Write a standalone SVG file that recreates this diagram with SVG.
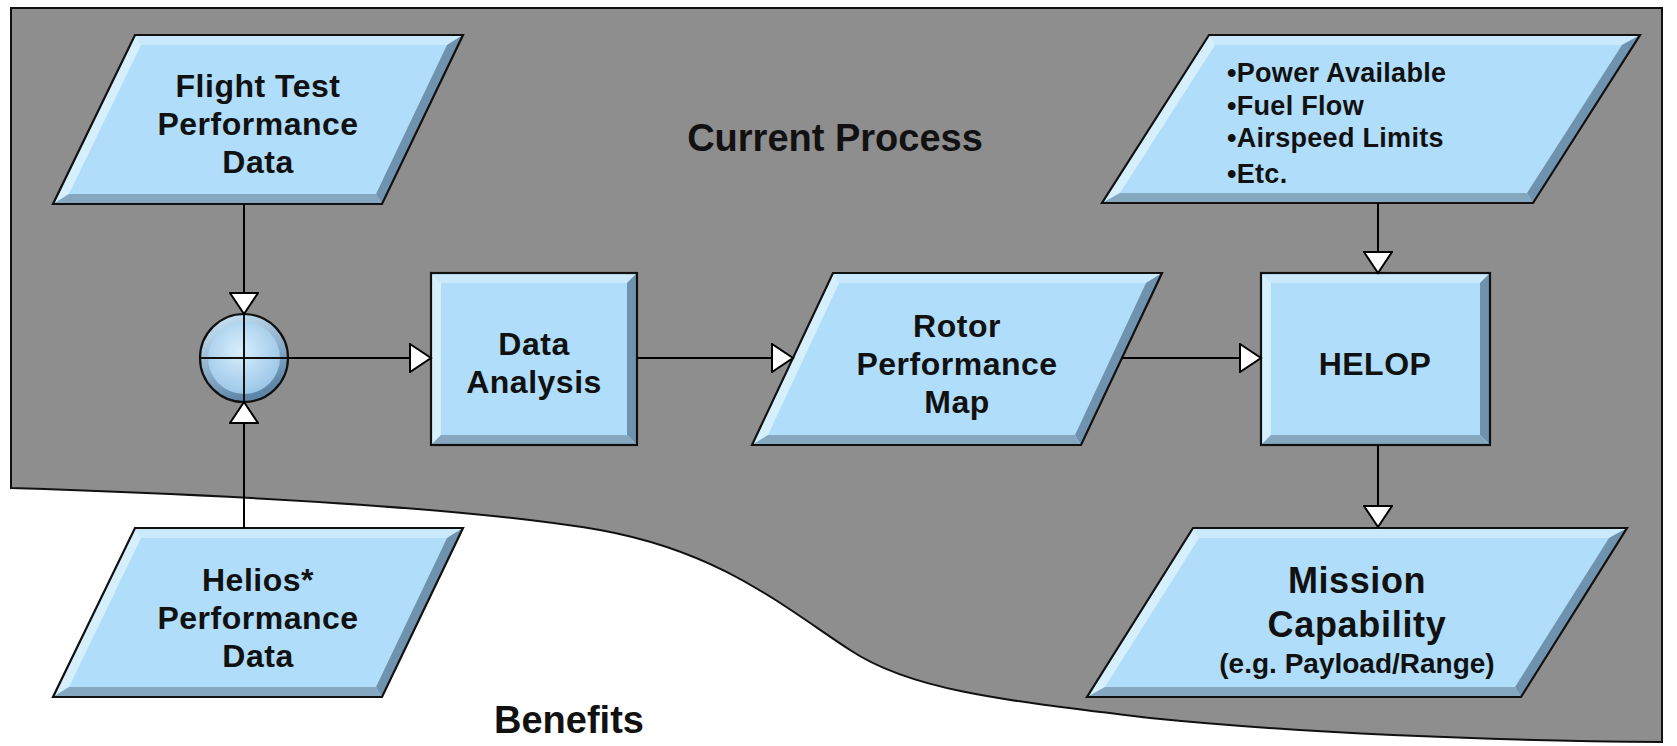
<svg xmlns="http://www.w3.org/2000/svg" width="1677" height="746" viewBox="0 0 1677 746">
  <style>
    .lbl { font-family: "Liberation Sans", Arial, Helvetica, sans-serif; font-weight: bold; fill: #111; text-anchor: middle; }
    .main { font-size: 32px; letter-spacing: 0.5px; }
    .title { font-size: 38px; }
    .list { font-size: 27px; text-anchor: start; letter-spacing: 0.3px; }
    .face { fill: #b0ddf9; }
    .bev-t { fill: #cbe9fc; }
    .bev-l { fill: #d6effd; }
    .bev-r { fill: #6f92ae; }
    .bev-b { fill: #86a7c0; }
    .outline { fill: none; stroke: #111; stroke-width: 2.2; stroke-linejoin: miter; }
    .conn { fill: none; stroke: #000; stroke-width: 2; marker-end: url(#tri); }
  </style>
  <defs>
    <marker id="tri" viewBox="0 0 24 30" refX="22" refY="15" markerWidth="24" markerHeight="30" markerUnits="userSpaceOnUse" orient="auto">
      <path d="M1,1 L22,15 L1,29 Z" fill="#fff" stroke="#000" stroke-width="2"/>
    </marker>
    <linearGradient id="ringGrad" x1="0" y1="0" x2="0.4" y2="1">
      <stop offset="0" stop-color="#d4ecfc"/>
      <stop offset="1" stop-color="#5e86a8"/>
    </linearGradient>
    <radialGradient id="capGrad" cx="0.45" cy="0.4" r="0.65">
      <stop offset="0" stop-color="#d8effd"/>
      <stop offset="1" stop-color="#98c4e6"/>
    </radialGradient>
  </defs>

  <rect width="1677" height="746" fill="#fff"/>

  <!-- shaded "current process" field with curved lower boundary -->
  <path id="current-process-area" d="M11,8 H1662 V742 C1550,741 1350,738 1150,718 C1000,700 910,690 850,650 C780,604 720,552 600,530 C450,505 200,494 11,488 Z" fill="#8e8e8e" stroke="#111" stroke-width="2"/>

  <text class="lbl title" x="835" y="151">Current Process</text>
  <text class="lbl title" x="569" y="733">Benefits</text>

  <g id="flight-test-data">
    <polygon class="face" points="135,35 463,35 382,204 53,204"/>
    <polygon class="bev-t" points="135,35 463,35 447,45 141,45"/>
    <polygon class="bev-l" points="135,35 141,45 69,194 53,204"/>
    <polygon class="bev-r" points="463,35 382,204 376,194 447,45"/>
    <polygon class="bev-b" points="53,204 69,194 376,194 382,204"/>
    <polygon class="outline" points="135,35 463,35 382,204 53,204"/>
    <text class="lbl main" x="258" y="97">Flight Test</text>
    <text class="lbl main" x="258" y="135">Performance</text>
    <text class="lbl main" x="258" y="173">Data</text>
  </g>

  <g id="helios-data">
    <polygon class="face" points="135,528 463,528 382,697 53,697"/>
    <polygon class="bev-t" points="135,528 463,528 447,538 141,538"/>
    <polygon class="bev-l" points="135,528 141,538 69,687 53,697"/>
    <polygon class="bev-r" points="463,528 382,697 376,687 447,538"/>
    <polygon class="bev-b" points="53,697 69,687 376,687 382,697"/>
    <polygon class="outline" points="135,528 463,528 382,697 53,697"/>
    <text class="lbl main" x="258" y="591">Helios*</text>
    <text class="lbl main" x="258" y="629">Performance</text>
    <text class="lbl main" x="258" y="667">Data</text>
  </g>

  <g id="summing-junction">
    <circle cx="244" cy="358" r="44" fill="url(#ringGrad)"/>
    <circle cx="244" cy="358" r="36" fill="url(#capGrad)"/>
    <circle cx="244" cy="358" r="44" class="outline"/>
    <line x1="200" y1="358" x2="288" y2="358" stroke="#111" stroke-width="2"/>
    <line x1="244" y1="314" x2="244" y2="402" stroke="#111" stroke-width="2"/>
  </g>

  <g id="data-analysis">
    <rect class="face" x="431" y="273" width="206" height="172"/>
    <polygon class="bev-t" points="431,273 637,273 627,283 441,283"/>
    <polygon class="bev-l" points="431,273 441,283 441,435 431,445"/>
    <polygon class="bev-r" points="637,273 637,445 627,435 627,283"/>
    <polygon class="bev-b" points="431,445 441,435 627,435 637,445"/>
    <rect class="outline" x="431" y="273" width="206" height="172"/>
    <text class="lbl main" x="534" y="355">Data</text>
    <text class="lbl main" x="534" y="393">Analysis</text>
  </g>

  <g id="rotor-performance-map">
    <polygon class="face" points="833,273 1162,273 1081,445 752,445"/>
    <polygon class="bev-t" points="833,273 1162,273 1146,283 839,283"/>
    <polygon class="bev-l" points="833,273 839,283 768,435 752,445"/>
    <polygon class="bev-r" points="1162,273 1081,445 1075,435 1146,283"/>
    <polygon class="bev-b" points="752,445 768,435 1075,435 1081,445"/>
    <polygon class="outline" points="833,273 1162,273 1081,445 752,445"/>
    <text class="lbl main" x="957" y="337">Rotor</text>
    <text class="lbl main" x="957" y="375">Performance</text>
    <text class="lbl main" x="957" y="413">Map</text>
  </g>

  <g id="helop">
    <rect class="face" x="1261" y="273" width="229" height="172"/>
    <polygon class="bev-t" points="1261,273 1490,273 1480,283 1271,283"/>
    <polygon class="bev-l" points="1261,273 1271,283 1271,435 1261,445"/>
    <polygon class="bev-r" points="1490,273 1490,445 1480,435 1480,283"/>
    <polygon class="bev-b" points="1261,445 1271,435 1480,435 1490,445"/>
    <rect class="outline" x="1261" y="273" width="229" height="172"/>
    <text class="lbl main" x="1375" y="375">HELOP</text>
  </g>

  <g id="engine-inputs">
    <polygon class="face" points="1209,35 1640,35 1533,203 1102,203"/>
    <polygon class="bev-t" points="1209,35 1640,35 1622,45 1215,45"/>
    <polygon class="bev-l" points="1209,35 1215,45 1120,193 1102,203"/>
    <polygon class="bev-r" points="1640,35 1533,203 1527,193 1622,45"/>
    <polygon class="bev-b" points="1102,203 1120,193 1527,193 1533,203"/>
    <polygon class="outline" points="1209,35 1640,35 1533,203 1102,203"/>
    <text class="lbl list" x="1227" y="82">•Power Available</text>
    <text class="lbl list" x="1227" y="115">•Fuel Flow</text>
    <text class="lbl list" x="1227" y="147">•Airspeed Limits</text>
    <text class="lbl list" x="1227" y="183">•Etc.</text>
  </g>

  <g id="mission-capability">
    <polygon class="face" points="1193,528 1627,528 1521,697 1087,697"/>
    <polygon class="bev-t" points="1193,528 1627,528 1609,538 1199,538"/>
    <polygon class="bev-l" points="1193,528 1199,538 1105,687 1087,697"/>
    <polygon class="bev-r" points="1627,528 1521,697 1515,687 1609,538"/>
    <polygon class="bev-b" points="1087,697 1105,687 1515,687 1521,697"/>
    <polygon class="outline" points="1193,528 1627,528 1521,697 1087,697"/>
    <text class="lbl" x="1357" y="593" style="font-size:36px;letter-spacing:0.6px">Mission</text>
    <text class="lbl" x="1357" y="637" style="font-size:36px;letter-spacing:0.7px">Capability</text>
    <text class="lbl" x="1357" y="673" style="font-size:28px">(e.g. Payload/Range)</text>
  </g>

  <g id="connectors">
    <path class="conn" d="M244,204 V314"/>
    <path class="conn" d="M244,528 V402"/>
    <path class="conn" d="M288,358 H431"/>
    <path class="conn" d="M637,358 H793"/>
    <path class="conn" d="M1122,358 H1261"/>
    <path class="conn" d="M1378,203 V273"/>
    <path class="conn" d="M1378,445 V527"/>
  </g>
</svg>
